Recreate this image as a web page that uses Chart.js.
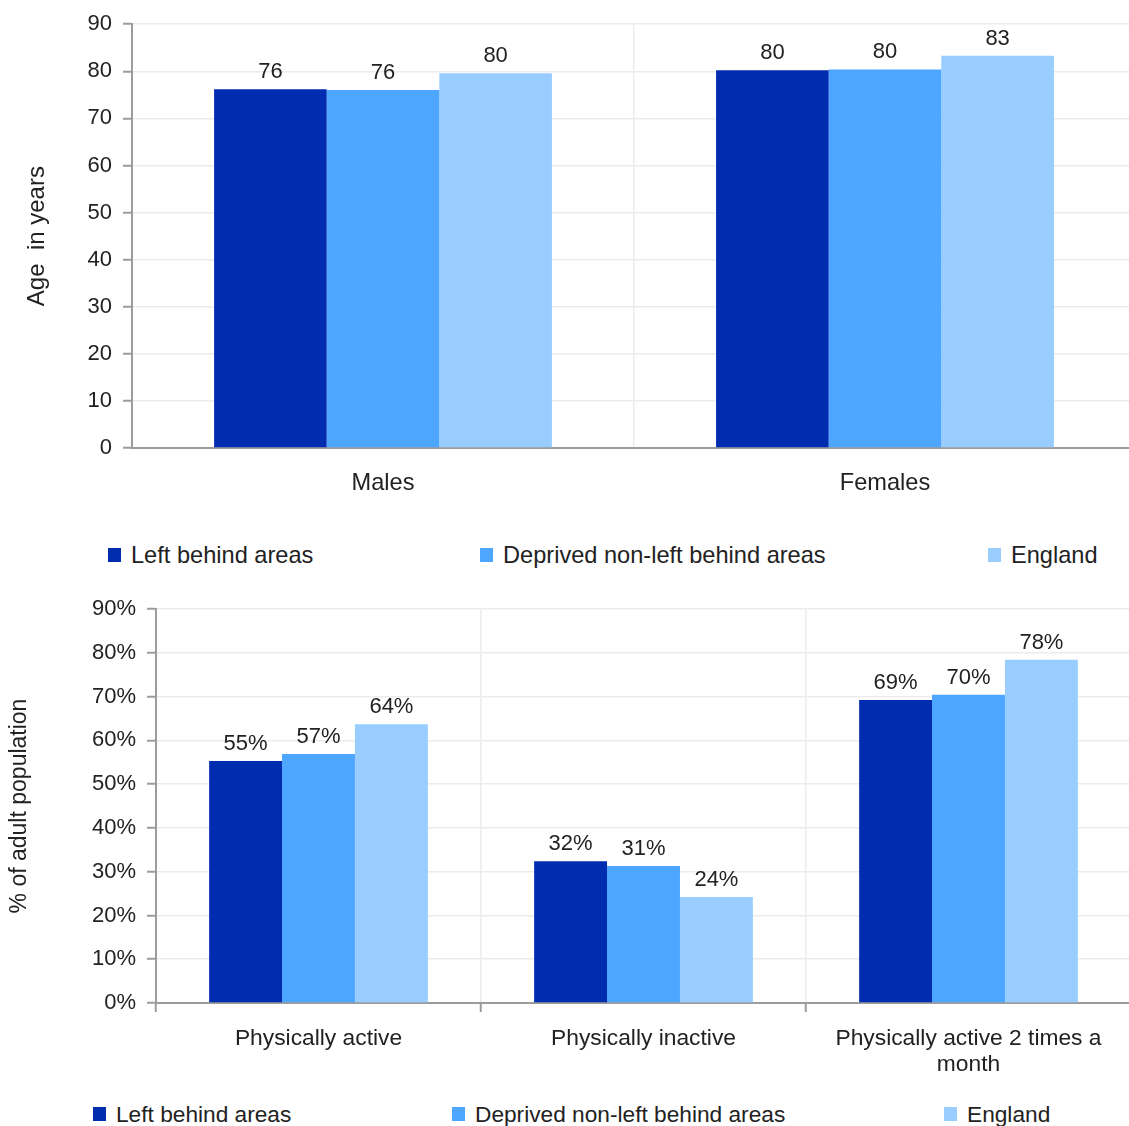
<!DOCTYPE html>
<html>
<head>
<meta charset="utf-8">
<script src="https://cdn.jsdelivr.net/npm/chart.js@4/dist/chart.umd.min.js"></script>
<style>
  html, body { margin: 0; padding: 0; background: #fff; width: 1129px; height: 1126px; overflow: hidden; position: relative; }
  canvas { position: absolute; left: 0; }
  .legend { position: absolute; left: 0; width: 1129px; height: 30px; font-family: 'Liberation Sans', Arial, sans-serif; color: #222; }
  .legend .item { position: absolute; top: 0; white-space: nowrap; line-height: 30px; }
  .legend .swatch { display: inline-block; width: 13px; height: 14px; vertical-align: middle; margin-right: 10px; position: relative; top: -2px; }
</style>
</head>
<body>
<canvas id="lifeChart" width="1140" height="510" style="top:0"></canvas>
<div class="legend" id="lifeLegend" style="top:540px; font-size:23.6px"></div>
<canvas id="activityChart" width="1140" height="510" style="top:580px"></canvas>
<div class="legend" id="activityLegend" style="top:1099px; font-size:22.7px"></div>

<script>
const FONT = "'Liberation Sans', Arial, sans-serif";

// Series shared by both charts
const seriesNames = ['Left behind areas', 'Deprived non-left behind areas', 'England'];
const seriesColours = ['#002db0', '#4da6ff', '#99ccff'];

// Life expectancy (years)
const lifeCategories = ['Males', 'Females'];
const lifeLeftBehind = [76.2, 80.2];
const lifeDeprived = [76.0, 80.4];
const lifeEngland = [79.6, 83.3];

// Physical activity (% of adults)
const activityCategories = ['Physically active', 'Physically inactive', ['Physically active 2 times a', 'month']];
const activityLeftBehind = [55.3, 32.4, 69.2];
const activityDeprived = [56.9, 31.3, 70.4];
const activityEngland = [63.7, 24.2, 78.4];

// Draws the rounded value above each bar
const barValueLabels = {
  id: 'barValueLabels',
  afterDatasetsDraw(chart, args, opts) {
    const ctx = chart.ctx;
    ctx.save();
    ctx.font = '22px ' + FONT;
    ctx.fillStyle = '#222';
    ctx.textAlign = 'center';
    ctx.textBaseline = 'bottom';
    chart.data.datasets.forEach((ds, i) => {
      chart.getDatasetMeta(i).data.forEach((bar, j) => {
        ctx.fillText(opts.format(ds.data[j]), bar.x, bar.y - opts.gap);
      });
    });
    ctx.restore();
  }
};

function buildDatasets(seriesValues) {
  return seriesValues.map((values, i) => ({
    label: seriesNames[i],
    data: values,
    backgroundColor: seriesColours[i],
    borderWidth: 0,
    categoryPercentage: 0.673,
    barPercentage: 1.0
  }));
}

function buildLegend(el, lefts) {
  seriesNames.forEach((name, i) => {
    const item = document.createElement('span');
    item.className = 'item';
    item.style.left = lefts[i] + 'px';
    const sw = document.createElement('span');
    sw.className = 'swatch';
    sw.style.background = seriesColours[i];
    item.appendChild(sw);
    item.appendChild(document.createTextNode(name));
    el.appendChild(item);
  });
}

const gridColour = '#ececec';
const axisColour = '#9c9c9c';

function chartOptions(o) {
  return {
    responsive: false,
    animation: false,
    devicePixelRatio: 1,
    layout: { padding: { top: o.padTop, right: o.padRight, left: 0, bottom: 0 } },
    plugins: {
      legend: { display: false },
      tooltip: { enabled: false },
      barValueLabels: { format: o.format, gap: 6 }
    },
    scales: {
      x: {
        grid: { color: gridColour, lineWidth: 1.5, offset: true, drawTicks: o.xTicks, tickLength: 9, tickColor: axisColour, tickWidth: 2 },
        border: { color: axisColour, width: 2 },
        ticks: { padding: o.xPad, color: '#222', font: { size: o.xFontSize, family: FONT, lineHeight: 1.13 }, maxRotation: 0, autoSkip: false },
        afterFit(s) { s.height = o.xHeight; }
      },
      y: {
        min: 0, max: 90,
        ticks: { stepSize: 10, padding: 11, color: '#222', font: { size: 22, family: FONT }, callback: o.yTick },
        grid: { color: gridColour, lineWidth: 1.5, tickColor: axisColour, tickLength: 9, tickWidth: 2 },
        border: { color: axisColour, width: 2 },
        title: { display: true, text: o.yTitle, color: '#222', font: { size: o.titleSize, family: FONT }, padding: { top: o.titlePad, bottom: 0 } },
        afterFit(s) { s.width = o.yWidth; }
      }
    }
  };
}

new Chart(document.getElementById('lifeChart'), {
  type: 'bar',
  data: { labels: lifeCategories, datasets: buildDatasets([lifeLeftBehind, lifeDeprived, lifeEngland]) },
  options: chartOptions({
    padTop: 22, padRight: 4, xTicks: false, xPad: 22, xHeight: 62, yWidth: 132, xFontSize: 23.6,
    yTitle: 'Age  in years', titleSize: 24, titlePad: 23,
    format: v => String(Math.round(v)), yTick: v => v
  }),
  plugins: [barValueLabels]
});

new Chart(document.getElementById('activityChart'), {
  type: 'bar',
  data: { labels: activityCategories, datasets: buildDatasets([activityLeftBehind, activityDeprived, activityEngland]) },
  options: chartOptions({
    padTop: 29, padRight: 9, xTicks: true, xPad: 14, xHeight: 87, yWidth: 156, xFontSize: 22.8,
    yTitle: '% of adult population', titleSize: 23, titlePad: 6,
    format: v => Math.round(v) + '%', yTick: v => v + '%'
  }),
  plugins: [barValueLabels]
});

buildLegend(document.getElementById('lifeLegend'), [108, 480, 988]);
buildLegend(document.getElementById('activityLegend'), [93, 452, 944]);
</script>
</body>
</html>
